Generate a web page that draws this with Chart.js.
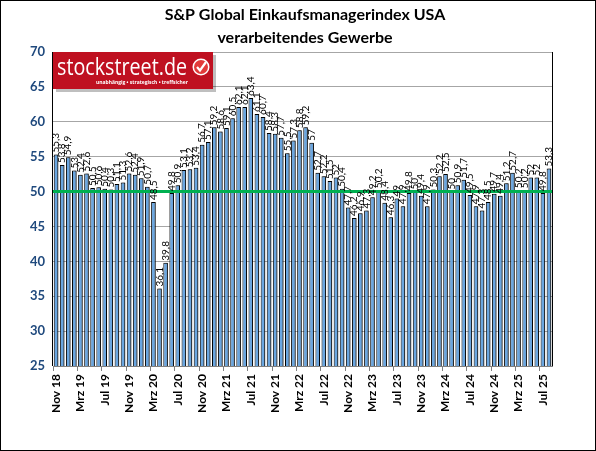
<!DOCTYPE html>
<html>
<head>
<meta charset="utf-8">
<script src="https://cdn.jsdelivr.net/npm/chart.js@4/dist/chart.umd.min.js"></script>
<style>
  html, body { margin: 0; padding: 0; background: #fff; }
  #wrap { width: 596px; height: 451px; position: relative; }
</style>
</head>
<body>
<div id="wrap"><canvas id="pmiChart" width="596" height="451"></canvas></div>
<script>
const months = [
  'Nov 18','Dez 18',
  'Jan 19','Feb 19','Mrz 19','Apr 19','Mai 19','Jun 19','Jul 19','Aug 19','Sep 19','Okt 19','Nov 19','Dez 19',
  'Jan 20','Feb 20','Mrz 20','Apr 20','Mai 20','Jun 20','Jul 20','Aug 20','Sep 20','Okt 20','Nov 20','Dez 20',
  'Jan 21','Feb 21','Mrz 21','Apr 21','Mai 21','Jun 21','Jul 21','Aug 21','Sep 21','Okt 21','Nov 21','Dez 21',
  'Jan 22','Feb 22','Mrz 22','Apr 22','Mai 22','Jun 22','Jul 22','Aug 22','Sep 22','Okt 22','Nov 22','Dez 22',
  'Jan 23','Feb 23','Mrz 23','Apr 23','Mai 23','Jun 23','Jul 23','Aug 23','Sep 23','Okt 23','Nov 23','Dez 23',
  'Jan 24','Feb 24','Mrz 24','Apr 24','Mai 24','Jun 24','Jul 24','Aug 24','Sep 24','Okt 24','Nov 24','Dez 24',
  'Jan 25','Feb 25','Mrz 25','Apr 25','Mai 25','Jun 25','Jul 25','Aug 25'
];

const pmiValues = [
  55.3, 53.8,
  54.9, 53.0, 52.4, 52.6, 50.5, 50.6, 50.4, 50.3, 51.1, 51.3, 52.6, 52.4,
  51.9, 50.7, 48.5, 36.1, 39.8, 49.8, 50.9, 53.1, 53.2, 53.4, 56.7, 57.1,
  59.2, 58.6, 59.1, 60.5, 62.1, 62.1, 63.4, 61.1, 60.7, 58.4, 58.3, 57.7,
  55.5, 57.3, 58.8, 59.2, 57.0, 52.7, 52.2, 51.5, 52.0, 50.4, 47.7, 46.2,
  46.9, 47.3, 49.2, 50.2, 48.4, 46.3, 49.0, 47.9, 49.8, 50.0, 49.4, 47.9,
  50.3, 52.2, 52.5, 50.0, 50.9, 51.7, 49.5, 47.9, 47.3, 48.5, 49.7, 49.4,
  51.2, 52.7, 50.2, 50.2, 52.0, 52.0, 49.8, 53.3
];

const yTicks = [25, 30, 35, 40, 45, 50, 55, 60, 65, 70];
const threshold = 50;

const titleLines = ['S&P Global Einkaufsmanagerindex USA', 'verarbeitendes Gewerbe'];

// text auf feste breite bringen
function fitText(ctx, txt, x, y, width) {
  const w = ctx.measureText(txt).width;
  ctx.save();
  ctx.translate(x, y);
  ctx.scale(width / w, 1);
  ctx.fillText(txt, 0, 0);
  ctx.restore();
}

const extrasPlugin = {
  id: 'extras',
  beforeDatasetsDraw(chart) {
    // schatten rechts neben den balken
    const ctx = chart.ctx;
    ctx.save();
    ctx.shadowColor = 'rgba(0,0,0,0.45)';
    ctx.shadowOffsetX = 1.5;
    ctx.shadowOffsetY = 0;
    ctx.shadowBlur = 0;
  },
  afterDatasetsDraw(chart) {
    const ctx = chart.ctx;
    ctx.restore();
    const area = chart.chartArea;
    const yScale = chart.scales.y;

    // 50er linie
    const y50 = yScale.getPixelForValue(threshold);
    ctx.save();
    ctx.strokeStyle = '#00B050';
    ctx.lineWidth = 3;
    ctx.beginPath();
    ctx.moveTo(area.left, y50);
    ctx.lineTo(area.right, y50);
    ctx.stroke();
    ctx.restore();

    // werte über den balken
    const meta = chart.getDatasetMeta(0);
    ctx.save();
    ctx.fillStyle = '#000';
    ctx.font = '10px Lato';
    ctx.textAlign = 'left';
    ctx.textBaseline = 'middle';
    meta.data.forEach((bar, i) => {
      const txt = String(pmiValues[i]).replace('.', ',');
      ctx.save();
      ctx.translate(bar.x, bar.y - 2);
      ctx.rotate(-Math.PI / 2);
      ctx.fillText(txt, 0, 0);
      ctx.restore();
    });
    ctx.restore();

    // rahmen plotfläche
    ctx.save();
    ctx.strokeStyle = '#000';
    ctx.lineWidth = 1;
    ctx.beginPath();
    ctx.moveTo(area.right + 0.5, area.top);
    ctx.lineTo(area.right + 0.5, area.bottom);
    ctx.moveTo(area.left - 0.5, area.top);
    ctx.lineTo(area.left - 0.5, area.bottom);
    ctx.stroke();
    ctx.restore();

    // logo
    const lx = area.left, ly = area.top, lw = 160, lh = 37;
    ctx.save();
    ctx.fillStyle = 'rgba(0,0,0,0.25)';
    ctx.fillRect(lx + 3, ly + 3, lw, lh);
    ctx.fillStyle = '#BF1020';
    ctx.fillRect(lx, ly, lw, lh);
    ctx.fillStyle = '#fff';
    ctx.textBaseline = 'alphabetic';
    ctx.textAlign = 'left';
    ctx.font = '23px "Open Sans"';
    fitText(ctx, 'stockstreet.de', lx + 4, ly + 23, 130);
    ctx.font = 'bold 6px "Open Sans"';
    fitText(ctx, 'unabhängig • strategisch • treffsicher', lx + 43, ly + 32, 92);
    // haken
    const cx = lx + 148, cy = ly + 15;
    ctx.beginPath();
    ctx.arc(cx, cy, 8.5, 0, Math.PI * 2);
    ctx.fillStyle = '#fff';
    ctx.fill();
    ctx.beginPath();
    ctx.arc(cx, cy, 7, 0, Math.PI * 2);
    ctx.fillStyle = '#E23A3A';
    ctx.fill();
    ctx.strokeStyle = '#fff';
    ctx.lineWidth = 2.2;
    ctx.beginPath();
    ctx.moveTo(cx - 4, cy);
    ctx.lineTo(cx - 1, cy + 3.5);
    ctx.lineTo(cx + 5, cy - 5);
    ctx.stroke();
    ctx.restore();
  },
  afterDraw(chart) {
    const ctx = chart.ctx;
    ctx.save();
    ctx.fillStyle = '#000';
    ctx.font = 'bold 16px Lato';
    ctx.textAlign = 'center';
    ctx.textBaseline = 'middle';
    ctx.fillText(titleLines[0], 305, 15);
    ctx.fillText(titleLines[1], 305, 38);
    ctx.strokeStyle = '#000';
    ctx.lineWidth = 1;
    ctx.strokeRect(0.5, 0.5, chart.width - 1, chart.height - 1);
    ctx.restore();
  }
};

new Chart(document.getElementById('pmiChart'), {
  type: 'bar',
  data: {
    labels: months,
    datasets: [{
      label: 'EMI',
      data: pmiValues,
      backgroundColor: '#6AA6E0',
      borderColor: '#000',
      borderWidth: 1,
      borderSkipped: false,
      barPercentage: 0.75,
      categoryPercentage: 1.0
    }]
  },
  options: {
    responsive: false,
    animation: false,
    layout: { padding: { top: 52, right: 44, bottom: 0, left: 0 } },
    plugins: {
      legend: { display: false },
      title: { display: false },
      tooltip: { enabled: false }
    },
    scales: {
      y: {
        min: 25,
        max: 70,
        afterBuildTicks(scale) {
          scale.ticks = yTicks.map(v => ({ value: v }));
        },
        afterFit(scale) { scale.width = 53; },
        ticks: {
          color: '#1F497D',
          font: { family: 'Lato', size: 13, weight: 'bold' },
          padding: 8
        },
        grid: { color: '#A6A6A6', drawTicks: false },
        border: { display: false }
      },
      x: {
        afterFit(scale) { scale.height = 85; },
        ticks: {
          autoSkip: false,
          maxRotation: 90,
          minRotation: 90,
          color: '#000',
          font: { family: 'Lato', size: 12, weight: 'bold' },
          padding: 3,
          callback(value, index) {
            return index % 4 === 0 ? months[index] : '';
          }
        },
        grid: {
          offset: true,
          drawOnChartArea: false,
          tickLength: 5,
          color: ctx => (ctx.index % 4 === 0 ? '#808080' : 'rgba(0,0,0,0)')
        },
        border: { color: '#808080' }
      }
    }
  },
  plugins: [extrasPlugin]
});
</script>
</body>
</html>
